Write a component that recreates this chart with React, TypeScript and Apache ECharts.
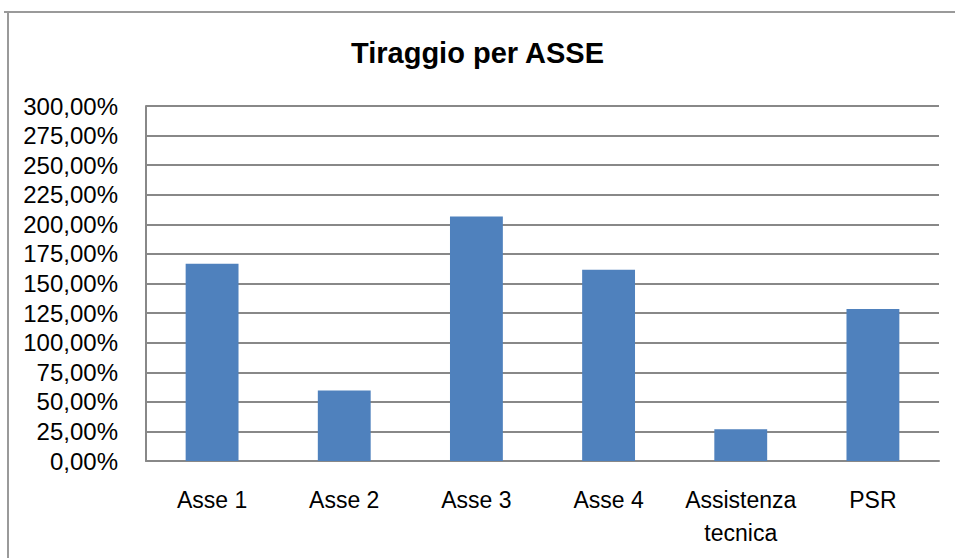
import React, { useEffect, useRef } from "react";
import * as echarts from "echarts";

const title = "Tiraggio per ASSE";
const categories = ["Asse 1", "Asse 2", "Asse 3", "Asse 4", "Assistenza\ntecnica", "PSR"];
const values = [166.7, 59.5, 206.7, 161.6, 26.8, 128.4];
const yMin = 0;
const yMax = 300;
const yStep = 25;

const FONT = "'Liberation Sans Narrow', 'Liberation Sans', Arial, sans-serif";

export default function App() {
  const ref = useRef<HTMLDivElement>(null);
  useEffect(() => {
    const chart = echarts.init(ref.current!, null, { renderer: "svg" });
    chart.setOption({
      animation: false,
      backgroundColor: "#ffffff",
      title: {
        text: title,
        left: "center",
        top: 33,
        textStyle: { fontFamily: FONT, fontSize: 29, fontWeight: "bold", color: "#000" },
      },
      graphic: [
        { type: "line", shape: { x1: 4, y1: 12, x2: 955, y2: 12 }, style: { stroke: "#9a9a9a", lineWidth: 2 } },
        { type: "line", shape: { x1: 8, y1: 12, x2: 8, y2: 558 }, style: { stroke: "#9a9a9a", lineWidth: 2 } },
      ],
      grid: { left: 146, right: 16, top: 106, bottom: 97, containLabel: false },
      xAxis: {
        type: "category",
        data: categories,
        axisLine: { show: true, lineStyle: { color: "#888", width: 2 } },
        axisTick: { show: false },
        axisLabel: {
          fontFamily: FONT,
          fontSize: 23,
          color: "#000",
          margin: 22,
          lineHeight: 33,
          interval: 0,
        },
      },
      yAxis: {
        type: "value",
        min: yMin,
        max: yMax,
        interval: yStep,
        axisLine: { show: true, lineStyle: { color: "#888", width: 2 } },
        axisTick: { show: false },
        splitLine: { show: true, lineStyle: { color: "#888", width: 2 } },
        axisLabel: {
          fontFamily: FONT,
          fontSize: 24,
          color: "#000",
          margin: 28,
          formatter: (v: number) => v.toFixed(2).replace(".", ",") + "%",
        },
      },
      series: [
        {
          type: "bar",
          data: values,
          barWidth: "40%",
          itemStyle: { color: "#4f81bd" },
        },
      ],
    });
    return () => chart.dispose();
  }, []);
  return <div ref={ref} style={{ position: "fixed", left: 0, top: 0, width: 955, height: 558 }} />;
}
